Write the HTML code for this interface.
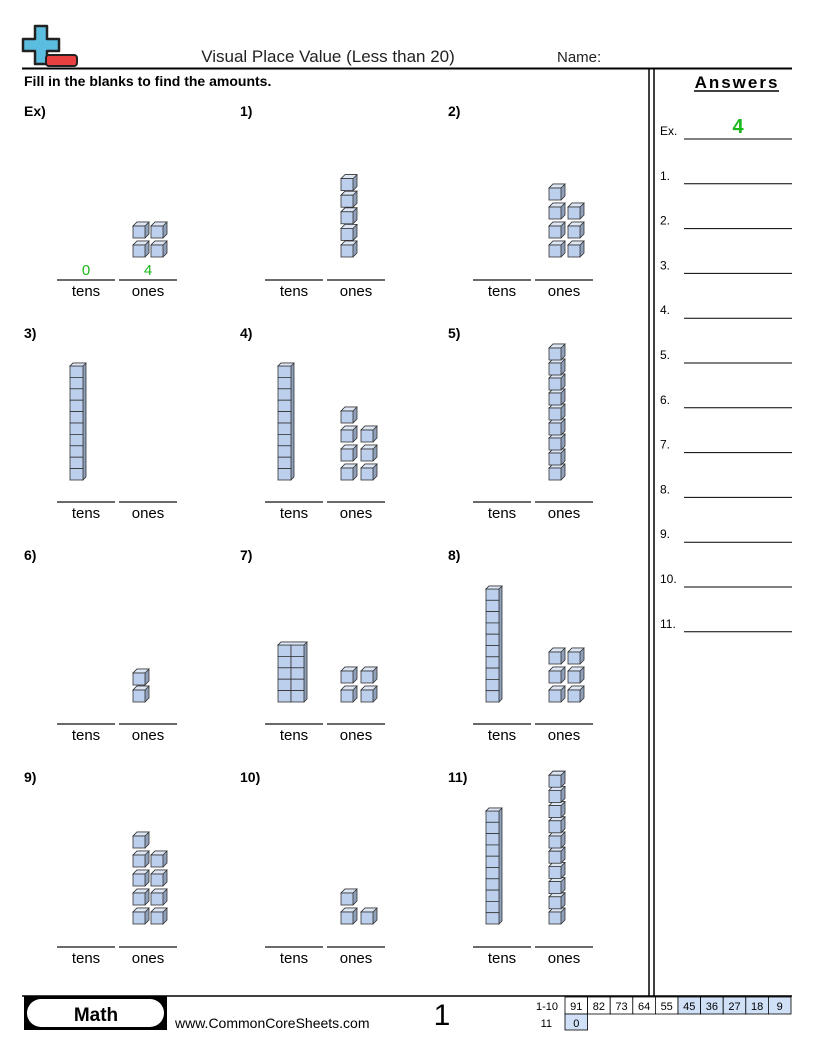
<!DOCTYPE html>
<html><head><meta charset="utf-8"><style>
body{margin:0;background:#fff;}
svg text{font-family:"Liberation Sans",sans-serif;}
</style></head><body>
<svg id="s" width="816" height="1056" xmlns="http://www.w3.org/2000/svg">
<path d="M35 26h12v13h12v12H47v13H35V51H23V39h12z" fill="#5bbde0" stroke="#222" stroke-width="2.5" stroke-linejoin="round"/>
<rect x="46" y="55" width="31" height="11" rx="3" fill="#e84040" stroke="#222" stroke-width="2"/>
<text x="328" y="62" font-size="17" text-anchor="middle" fill="#222">Visual Place Value (Less than 20)</text>
<text x="557" y="62" font-size="15" fill="#222">Name:</text>
<line x1="22" y1="68.5" x2="792" y2="68.5" stroke="#000" stroke-width="2"/>
<line x1="649" y1="68" x2="649" y2="996" stroke="#000" stroke-width="1.5"/>
<line x1="654" y1="68" x2="654" y2="996" stroke="#000" stroke-width="1.5"/>
<text x="24" y="86" font-size="14" font-weight="bold">Fill in the blanks to find the amounts.</text>
<text x="737" y="88" font-size="17" font-weight="bold" text-anchor="middle" letter-spacing="2">Answers</text>
<line x1="694" y1="91" x2="779" y2="91" stroke="#000" stroke-width="1.5"/>
<g id="g"></g>
<line x1="22" y1="996" x2="792" y2="996" stroke="#000" stroke-width="1.5"/>
<rect x="24" y="996" width="143" height="34" fill="#000"/>
<rect x="27" y="999" width="137" height="28" rx="14" fill="#fff"/>
<text x="96" y="1021" font-size="19" font-weight="bold" text-anchor="middle">Math</text>
<text x="175" y="1028" font-size="14">www.CommonCoreSheets.com</text>
<text x="442" y="1025" font-size="30" text-anchor="middle">1</text>
<text x="558" y="1010" font-size="11" text-anchor="end">1-10</text>
<text x="552" y="1027" font-size="11" text-anchor="end">11</text>
</svg>
<script>
const g=document.getElementById('g');let h='';
function cube(x,y,w){w=w||12;const d=4;
h+=`<path d="M${x} ${y}l${d} -${d}h${w}v${w}l-${d} ${d}z" fill="#8fa0bb" stroke="#333" stroke-width="0.8"/>`;
h+=`<path d="M${x} ${y}l${d} -${d}h${w}l-${d} ${d}z" fill="#dde6f5" stroke="#333" stroke-width="0.8"/>`;
h+=`<rect x="${x}" y="${y}" width="${w}" height="${w}" fill="#bcd0ee" stroke="#333" stroke-width="0.8"/>`;}
function col(x,bottom,n,p){for(let i=0;i<n;i++){cube(x,bottom-12-i*p);}}
function block(x,top,bottom,nc,nr){const w=13;const p=(bottom-top-3)/nr;const W=w*nc;
h+=`<path d="M${x} ${top+3}l3 -3h${W}v${bottom-top-3}l-3 3z" fill="#8fa0bb" stroke="#333" stroke-width="0.8"/>`;
for(let c=0;c<nc;c++)for(let i=0;i<nr;i++){h+=`<rect x="${x+c*w}" y="${top+3+i*p}" width="${w}" height="${p}" fill="#bcd0ee" stroke="#333" stroke-width="0.8"/>`;}
h+=`<path d="M${x} ${top+3}l3 -3h${W}l-3 3z" fill="#dde6f5" stroke="#333" stroke-width="0.8"/>`;}
function rodTight(x,t,b){block(x,t,b,1,10);}
const cols=[[24,57],[240,265],[448,473]];const rows=[111,333,555,777];const base=[280,502,724,947];
const labs=['Ex)','1)','2)','3)','4)','5)','6)','7)','8)','9)','10)','11)'];
for(let r=0;r<4;r++)for(let c=0;c<3;c++){const [lx,x0]=cols[c];const by=base[r];
h+=`<text x="${lx}" y="${rows[r]+5}" font-size="14" font-weight="bold">${labs[r*3+c]}</text>`;
h+=`<line x1="${x0}" y1="${by}" x2="${x0+58}" y2="${by}" stroke="#555" stroke-width="1.8"/><line x1="${x0+62}" y1="${by}" x2="${x0+120}" y2="${by}" stroke="#555" stroke-width="1.8"/>`;
h+=`<text x="${x0+29}" y="${by+16}" font-size="15" text-anchor="middle">tens</text><text x="${x0+91}" y="${by+16}" font-size="15" text-anchor="middle">ones</text>`;}
h+=`<text x="86" y="275" font-size="15" fill="#1bb81b" text-anchor="middle">0</text><text x="148" y="275" font-size="15" fill="#1bb81b" text-anchor="middle">4</text>`;
col(133,257,2,19);col(151,257,2,19);
col(341,257,5,16.6);
col(549,257,4,19);col(568,257,3,19);
rodTight(70,363,480);
rodTight(278,363,480);col(341,480,4,19);col(361,480,3,19);
col(549,480,9,15);
col(133,702,2,17);
col(341,702,2,19);col(361,702,2,19);
block(278,642,702,2,5);
rodTight(486,586,702);col(549,702,3,19);col(568,702,3,19);
col(133,924,5,19);col(151,924,4,19);
col(341,924,2,19);col(361,924,1,19);
rodTight(486,808,924);col(549,924,10,15.2);
const al=['Ex.','1.','2.','3.','4.','5.','6.','7.','8.','9.','10.','11.'];
for(let i=0;i<12;i++){const y=130+i*44.8;h+=`<text x="660" y="${y+5}" font-size="12">${al[i]}</text><line x1="684" y1="${y+9}" x2="792" y2="${y+9}" stroke="#000" stroke-width="1"/>`;}
h+=`<text x="738" y="133" font-size="20" font-weight="bold" fill="#1bb81b" text-anchor="middle">4</text>`;
const v=['91','82','73','64','55','45','36','27','18','9'];
for(let i=0;i<10;i++){const x=565+i*22.6;h+=`<rect x="${x}" y="997" width="22.6" height="17" fill="${i>=5?'#cfe0f7':'#fff'}" stroke="#000" stroke-width="0.8"/><text x="${x+11.3}" y="1010" font-size="11" text-anchor="middle">${v[i]}</text>`;}
h+=`<rect x="565" y="1014" width="22.6" height="16" fill="#cfe0f7" stroke="#000" stroke-width="0.8"/><text x="576.3" y="1027" font-size="11" text-anchor="middle">0</text>`;
g.innerHTML=h;
</script>
</body></html>
